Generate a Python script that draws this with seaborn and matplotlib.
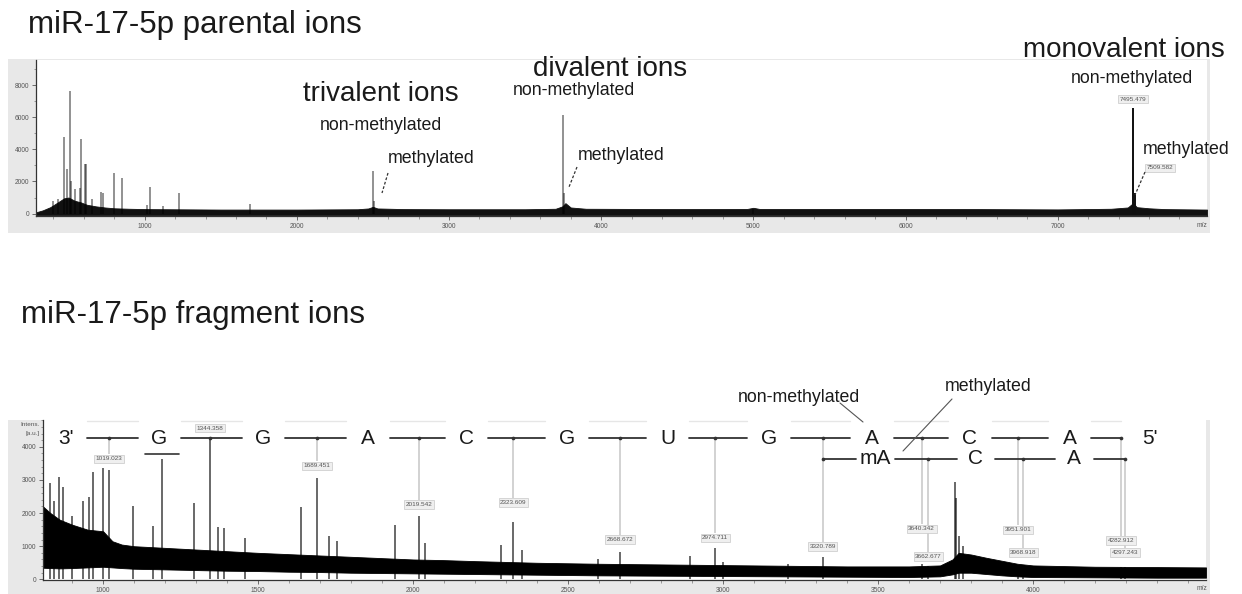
import numpy as np
import pandas as pd
import matplotlib
matplotlib.use("Agg")
import matplotlib.pyplot as plt
import seaborn as sns
from matplotlib.patches import Rectangle
from matplotlib.lines import Line2D
from matplotlib.ticker import MultipleLocator, FixedLocator

# ---------------- data: parental-ion spectrum ----------------
par_peak_mz = [398, 430, 470, 490, 509, 516, 545, 575, 582, 608, 614, 654, 713, 726,
               798, 851, 1015, 1035, 1120, 1226, 1690, 2498, 2506, 3748, 3755, 5000,
               7495.479, 7498, 7509.582]
par_peak_int = [800, 900, 4770, 2800, 7640, 2000, 1500, 1600, 4650, 3100, 3100, 900, 1370, 1300,
                2550, 2240, 560, 1680, 500, 1300, 600, 2670, 800, 6150, 1300, 300,
                6580, 2900, 1300]
par_noise_mz = [286, 330, 380, 430, 470, 500, 540, 580, 620, 680, 740, 800, 900, 1000, 1500,
                2000, 2400, 2470, 2500, 2530, 2700, 3000, 3500, 3700, 3745, 3765, 3800, 3900,
                4500, 4960, 5000, 5040, 6000, 6500, 7000, 7350, 7460, 7495, 7520, 7600, 7700, 7981]
par_noise_hi = [80, 200, 400, 700, 950, 1000, 800, 700, 550, 450, 380, 330, 300, 280, 250,
                250, 270, 320, 420, 320, 280, 270, 270, 300, 450, 650, 380, 300,
                280, 290, 360, 290, 290, 280, 260, 300, 380, 650, 400, 330, 280, 250]
par_noise_lo = [-100, -100, -100, -100, -100, -100, -100, -100, -100, -100, -100, -100, -100, -100, -100,
                -100, -100, -100, -100, -100, -100, -100, -100, -100, -100, -100, -100, -100,
                -100, -100, -100, -100, -100, -100, -100, -100, -100, -100, -100, -100, -100, -100]
par_labels = ["7495.479", "7509.582"]
par_label_mz = [7495.479, 7509.582]

# ---------------- data: fragment-ion spectrum ----------------
frag_peak_mz = [829, 841, 858, 871, 900, 935, 955, 968, 1000, 1019.023, 1097, 1161, 1190, 1293,
                1344.358, 1370, 1390, 1458, 1638, 1689.451, 1728, 1755, 1942, 2019.542, 2038,
                2282, 2323.609, 2350, 2596, 2668.672, 2893, 2974.711, 2999, 3209, 3320.789,
                3640.342, 3662.677, 3748, 3752, 3760, 3775, 3951.901, 3968.918, 4282.912, 4297.243]
frag_peak_int = [2920, 2350, 3100, 2800, 1900, 2350, 2500, 3250, 3370, 3310, 2200, 1600, 3640, 2290,
                 4250, 1580, 1550, 1250, 2170, 3070, 1300, 1150, 1650, 1900, 1110,
                 1050, 1740, 900, 600, 840, 690, 960, 510, 450, 660,
                 450, 400, 2950, 2470, 1300, 1000, 400, 420, 380, 360]
frag_noise_mz = [806, 830, 860, 900, 950, 1000, 1030, 1060, 1100, 1200, 1300, 1400, 1500, 1600,
                 1700, 1800, 1900, 2000, 2100, 2200, 2400, 2600, 2800, 3000, 3200, 3400, 3600,
                 3700, 3740, 3760, 3800, 3850, 3900, 3950, 4000, 4200, 4400, 4558]
frag_noise_hi = [2200, 2000, 1800, 1650, 1500, 1450, 1150, 1050, 1000, 950, 900, 850, 800, 760,
                 720, 680, 640, 600, 580, 550, 500, 470, 450, 430, 410, 390, 390,
                 420, 600, 800, 750, 650, 560, 470, 420, 380, 370, 360]
frag_noise_lo = [350, 340, 330, 340, 360, 380, 360, 340, 320, 300, 280, 260, 250, 230,
                 220, 200, 190, 180, 170, 160, 140, 120, 110, 100, 90, 80, 70,
                 90, 150, 200, 200, 160, 120, 90, 70, 60, 50, 50]

# ladder (3' -> 5')
row1_mz = [1019.023, 1344.358, 1689.451, 2019.542, 2323.609, 2668.672, 2974.711,
           3320.789, 3640.342, 3951.901, 4282.912]
row1_letters = ["G", "G", "A", "C", "G", "U", "G", "A", "C", "A"]
row2_mz = [3320.789, 3662.677, 3968.918, 4297.243]
row2_letters = ["mA", "C", "A"]
frag_labels = ["1019.023", "1344.358", "1689.451", "2019.542", "2323.609", "2668.672",
               "2974.711", "3320.789", "3640.342", "3662.677", "3951.901", "3968.918",
               "4282.912", "4297.243"]
frag_label_mz = [1019.023, 1344.358, 1689.451, 2019.542, 2323.609, 2668.672,
                 2974.711, 3320.789, 3640.342, 3662.677, 3951.901, 3968.918,
                 4282.912, 4297.243]
par_xticks = [1000, 2000, 3000, 4000, 5000, 6000, 7000]
frag_xticks = [1000, 1500, 2000, 2500, 3000, 3500, 4000]

# ---------------- layout ----------------
sns.set_theme(style="white")
plt.rcParams['font.family'] = ['Liberation Sans', 'DejaVu Sans']
W, H = 1242, 594
fig = plt.figure(figsize=(W / 100, H / 100), dpi=100)
fig.patch.set_facecolor("white")


def fx(x):
    return x / W


def fy(y):
    return 1 - y / H


def px_axes(left, top, right, bottom):
    return fig.add_axes([fx(left), fy(bottom), (right - left) / W, (bottom - top) / H])


def ftext(x, y, s, size, ha="left", va="baseline"):
    fig.text(fx(x), fy(y), s, fontsize=size, ha=ha, va=va, color="#1a1a1a")


def fline(x0, y0, x1, y1, ls="-", color="#333333", lw=0.9):
    fig.add_artist(Line2D([fx(x0), fx(x1)], [fy(y0), fy(y1)], transform=fig.transFigure,
                          color=color, lw=lw, linestyle=ls))


for (x0, y0, x1, y1) in [(8, 59, 1210, 233), (8, 420, 1210, 594)]:
    fig.patches.append(Rectangle((fx(x0), fy(y1)), (x1 - x0) / W, (y1 - y0) / H,
                                 transform=fig.transFigure, facecolor="#e8e8e8",
                                 edgecolor="none", zorder=-5))


def style_axes(ax):
    ax.set_facecolor("white")
    for s in ["top", "right"]:
        ax.spines[s].set_visible(False)
    for s in ["left", "bottom"]:
        ax.spines[s].set_color("#333333")
        ax.spines[s].set_linewidth(0.9)
    ax.tick_params(axis="both", which="major", labelsize=4.8, labelcolor="#555555",
                   length=3, width=0.6, color="#555555", direction="out", pad=2,
                   bottom=True, left=True)
    ax.tick_params(axis="both", which="minor", length=1.8, width=0.5, color="#777777",
                   direction="out", bottom=True, left=True)
    ax.set_xlabel("")
    ax.set_ylabel("")


# ---------------- top panel ----------------
ax1 = px_axes(36, 60, 1207, 216)
ax1.fill_between(par_noise_mz, par_noise_lo, par_noise_hi, color="#111111", lw=0.6, zorder=2)
ax1.vlines(par_peak_mz, 0, par_peak_int, colors="black", alpha=0.5, lw=1.2, zorder=3)
lab_int = [par_peak_int[par_peak_mz.index(m)] for m in par_label_mz]
ax1.vlines(par_label_mz, 0, lab_int, colors="#111111", lw=1.4, zorder=4)
ax1.set_xlim(286, 7981)
ax1.set_ylim(-150, 9560)
ax1.xaxis.set_major_locator(FixedLocator(par_xticks))
ax1.xaxis.set_minor_locator(MultipleLocator(200))
ax1.yaxis.set_major_locator(MultipleLocator(2000))
ax1.yaxis.set_minor_locator(MultipleLocator(1000))
style_axes(ax1)
for s, m, yv, ha, dx in zip(par_labels, par_label_mz, [7130, 2840], ["center", "left"], [0, 75]):
    ax1.text(m + dx, yv, s, fontsize=4.6, ha=ha, va="center", color="#555555",
             bbox=dict(boxstyle="square,pad=0.25", fc="#efefef", ec="#c8c8c8", lw=0.5), zorder=5)
fig.text(fx(1207), fy(226), "m/z", fontsize=4.8, ha="right", va="center", color="#555555")

ftext(28, 33, "miR-17-5p parental ions", 22.5)
ftext(303, 101, "trivalent ions", 20)
ftext(320, 130, "non-methylated", 12.8)
ftext(388, 163, "methylated", 12.8)
fline(388, 173, 382, 193, ls=(0, (2.2, 1.5)))
ftext(533, 76, "divalent ions", 20)
ftext(513, 95, "non-methylated", 12.8)
ftext(578, 160, "methylated", 12.8)
fline(577, 167, 569, 187, ls=(0, (2.2, 1.5)))
ftext(1023, 57, "monovalent ions", 20)
ftext(1071, 83, "non-methylated", 12.8)
ftext(1143, 154, "methylated", 12.8)
fline(1145, 172, 1135, 195, ls=(0, (2.2, 1.5)))

# ---------------- bottom panel ----------------
ax2 = px_axes(43, 420, 1206, 580)
ax2.fill_between(frag_noise_mz, frag_noise_lo, frag_noise_hi, color="black", lw=0.6, zorder=2)
ax2.vlines(frag_peak_mz, 0, frag_peak_int, colors="black", alpha=0.75, lw=1.1, zorder=3)
ax2.set_xlim(806, 4558)
ax2.set_ylim(-20, 4810)
ax2.xaxis.set_major_locator(FixedLocator(frag_xticks))
ax2.xaxis.set_minor_locator(MultipleLocator(100))
ax2.yaxis.set_major_locator(MultipleLocator(1000))
ax2.yaxis.set_minor_locator(MultipleLocator(200))
style_axes(ax2)
fig.text(fx(1207), fy(589), "m/z", fontsize=4.8, ha="right", va="center", color="#555555")
fig.text(fx(40), fy(425), "Intens.", fontsize=4.6, ha="right", va="center", color="#555555")
fig.text(fx(40), fy(434), "[a.u.]", fontsize=4.6, ha="right", va="center", color="#555555")

ftext(21, 323, "miR-17-5p fragment ions", 22.5)

ROW1_Y, ROW2_Y, TOP_Y = 4260, 3640, 4780
GAP = 70
LW_L = 1.3
lad_color = "#333333"

first, last = row1_mz[0], row1_mz[-1]
pos3 = first - 140
letter_pos1 = [(a + b) / 2 for a, b in zip(row1_mz[:-1], row1_mz[1:])]
stops = [pos3] + letter_pos1
for i, s in enumerate(stops):
    start = s + GAP
    end = stops[i + 1] - GAP if i + 1 < len(stops) else last
    sns.lineplot(x=[start, end], y=[ROW1_Y, ROW1_Y], ax=ax2, color=lad_color, lw=LW_L, zorder=6)
    sns.lineplot(x=[start, end], y=[TOP_Y, TOP_Y], ax=ax2, color="#e6e6e6", lw=1.0, zorder=1)
ax2.text(pos3, ROW1_Y, "3'", fontsize=15, ha="center", va="center", color="#1a1a1a", zorder=7)
ax2.text(last + 70, ROW1_Y, "5'", fontsize=15, ha="left", va="center", color="#1a1a1a", zorder=7)
for p, L in zip(letter_pos1, row1_letters):
    ax2.text(p, ROW1_Y, L, fontsize=15, ha="center", va="center", color="#1a1a1a", zorder=7)
sns.scatterplot(x=row1_mz, y=[ROW1_Y] * len(row1_mz), ax=ax2, color=lad_color, s=7,
                linewidth=0, zorder=8, legend=False)

letter_pos2 = [(a + b) / 2 for a, b in zip(row2_mz[:-1], row2_mz[1:])]
stops2 = [row2_mz[0]] + letter_pos2
for i, s in enumerate(stops2):
    start = s if i == 0 else s + 62
    end = stops2[i + 1] - 62 if i + 1 < len(stops2) else row2_mz[-1]
    sns.lineplot(x=[start, end], y=[ROW2_Y, ROW2_Y], ax=ax2, color=lad_color, lw=LW_L, zorder=6)
for p, L in zip(letter_pos2, row2_letters):
    ax2.text(p, ROW2_Y, L, fontsize=15, ha="center", va="center", color="#1a1a1a", zorder=7)
sns.scatterplot(x=row2_mz, y=[ROW2_Y] * len(row2_mz), ax=ax2, color=lad_color, s=7,
                linewidth=0, zorder=8, legend=False)

label_y = [3640, 4560, 3430, 2260, 2320, 1200, 1260, 990, 1530, 690, 1500, 810, 1170, 810]
for s, m, yv in zip(frag_labels, frag_label_mz, label_y):
    ax2.text(m, yv, s, fontsize=4.6, ha="center", va="center", color="#555555", zorder=9,
             bbox=dict(boxstyle="square,pad=0.25", fc="#efefef", ec="#c8c8c8", lw=0.5))
    top = ROW2_Y if (m in row2_mz and m != row2_mz[0]) else ROW1_Y
    if yv < top:
        ax2.vlines(m, yv + 150, top, colors="#cfcfcf", lw=1.3, zorder=1)

g_peak = frag_peak_mz[frag_peak_int.index(max(frag_peak_int[10:14]))]
sns.lineplot(x=[g_peak - 55, g_peak + 55], y=[3790, 3790], ax=ax2, color=lad_color, lw=1.2, zorder=6)

ftext(738, 402, "non-methylated", 12.8)
ftext(945, 391, "methylated", 12.8)
fline(840, 403, 863, 422, color="#555555", lw=0.8)
fline(952, 399, 903, 451, color="#555555", lw=0.8)

fig.savefig("out.png", dpi=100)
